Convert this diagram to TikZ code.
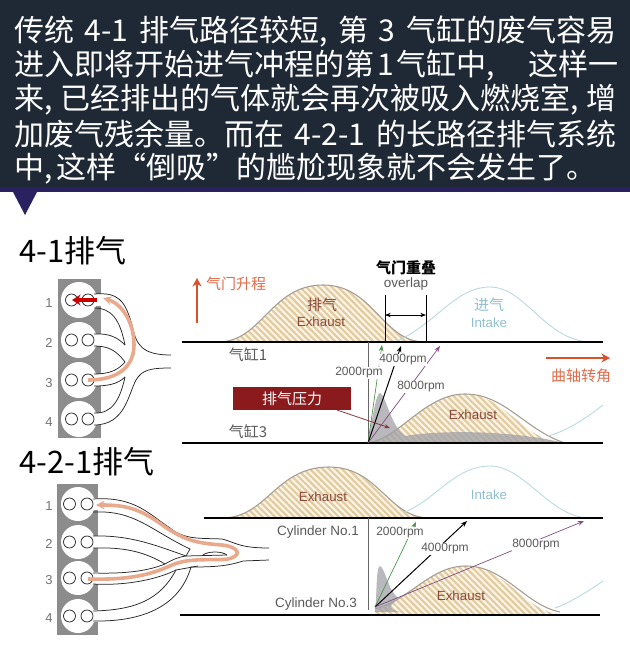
\documentclass[tikz,border=0pt]{standalone}
\usepackage{fontspec}
\setmainfont{Noto Sans CJK SC}
\newfontfamily\latinfont{Liberation Sans}
\usetikzlibrary{arrows.meta,calc,patterns.meta}
\XeTeXlinebreaklocale "zh"
\XeTeXlinebreakskip=0pt plus 1pt
\definecolor{headbg}{HTML}{1F2935}
\definecolor{headedge}{HTML}{2A2160}
\definecolor{liftred}{HTML}{D9512B}
\definecolor{hatchtan}{HTML}{E3CBA0}
\definecolor{hatchbase}{HTML}{FBF5E8}
\definecolor{bellgrey}{HTML}{A89F94}
\definecolor{intakeblue}{HTML}{B9DADE}
\definecolor{intaketext}{HTML}{8FBFCC}
\definecolor{labelbrown}{HTML}{8A4A3A}
\definecolor{boxred}{HTML}{8A1A1C}
\definecolor{flow}{HTML}{E8A98C}
\newcommand{\bellpath}[5]{(#1,#5) .. controls ({#1+.42*(#2-#1)},#5) and ({#1+.5*(#2-#1)},#4) .. (#2,#4) .. controls ({#2+.5*(#3-#2)},#4) and ({#2+.58*(#3-#2)},#5) .. (#3,#5)}
\newcommand{\sz}[1]{\fontsize{#1}{#1}\selectfont}
\newcommand{\gap}{\hspace{0pt plus 1fil}}
\tikzset{headline/.style={anchor=west,inner sep=0pt,text=white,font=\sz{30}},
         title/.style={anchor=west,inner sep=0pt,font=\sz{31}},
         axis/.style={line width=1.5pt,black},
         hatched/.style={preaction={fill=hatchbase},pattern={Lines[angle=-45,distance=4.5pt,line width=2.2pt]},pattern color=hatchtan},
         bell/.style={line width=1.1pt,bellgrey},
         intake/.style={line width=.9pt,intakeblue},
         press/.style={fill=black!40!blue!6!gray!70,fill opacity=.75},
         rpm/.style={-{Stealth[length=2.2mm]},line width=.7pt},
         rpmtext/.style={inner sep=.5pt,fill=white,text=black!65,font=\latinfont\sz{12}},
         tube/.style={line width=.75pt,black!85},
         flowline/.style={line width=3.6pt,flow},
         cyl/.style={text=black!55,font=\latinfont\sz{13}},
         red label/.style={text=liftred!85,font=\sz{15}},
         grey label/.style={text=black!65,font=\sz{15}},
         brown label/.style={text=labelbrown,font=\latinfont\sz{13.3}},
         blue label/.style={text=intaketext,font=\latinfont\sz{13.3}},
         lift/.style={-{Stealth[length=3mm,width=3.2mm]},line width=1.1pt,liftred}}
\begin{document}
\begin{tikzpicture}[x=1pt,y=-1pt]
  \useasboundingbox (0,0) rectangle (630,649);
  \fill[headbg] (0,0) rectangle (630,192);
  \fill[headedge] (0,187) rectangle (630,192);
  \fill[headedge] (13,192) -- (37,192) -- (25,215) -- cycle;
  \node[headline] (line1) at (14,32) {\makebox[602pt][s]{传统\gap 4-1\gap 排气路径较短,\gap 第\gap 3\gap 气缸的废气容易}};
  \node[headline] (line2) at (14,66) {\makebox[604pt][s]{进入即将开始进气冲程的第\hspace{3pt}1\hspace{3pt}气缸中,\gap 这样一}};
  \node[headline] (line3) at (14,100) {\makebox[602pt][s]{来,\gap 已经排出的气体就会再次被吸入燃烧室,\gap 增}};
  \node[headline] (line4) at (14,134) {\makebox[602pt][s]{加废气残余量。而在\gap 4-2-1\gap 的长路径排气系统}};
  \node[headline] (line5) at (14,169) {中,\hspace{4pt}这样“倒吸”的尴尬现象就不会发生了。};

  \node[title] (title1) at (19,251) {4-1排气};
  \node[title] (title2) at (19,462) {4-2-1排气};

  % upper engine
  \fill[black!45] (58,279) rectangle (101,438);
  \foreach \n/\y in {1/300,2/340,3/380,4/419}{
    \fill[white] (79,\y) circle (18);
    \fill[white] (90,\y-6) rectangle (101,\y+6);
    \draw[tube] (71.5,\y) circle (6) (88,\y) circle (6);
    \node[cyl] (num\n) at (49,\y+3) {\n};
  }
  \draw[tube] (94,294) .. controls (118,292) and (125,300) .. (132,325) .. controls (136,345) and (142,355) .. (171,355);
  \draw[tube] (94,308) .. controls (112,308) and (120,320) .. (125,345);
  \draw[tube] (94,334) .. controls (110,333) and (118,338) .. (125,345);
  \draw[tube] (94,346) .. controls (108,346) and (116,350) .. (125,362);
  \draw[tube] (94,374) .. controls (110,374) and (118,370) .. (125,362);
  \draw[tube] (94,386) .. controls (108,386) and (118,384) .. (125,377);
  \draw[tube] (94,413) .. controls (112,414) and (120,400) .. (125,377);
  \draw[tube] (94,425) .. controls (125,425) and (128,395) .. (136,380) .. controls (142,370) and (150,368) .. (171,368);
  \draw[flowline,-{Stealth[length=3mm,width=3mm]}] (88,380) .. controls (120,380) and (134,365) .. (134,345) .. controls (134,322) and (122,304) .. (103,298);
  \draw[-{Stealth[length=3mm,width=3.8mm]},line width=4pt,red!80!black] (97,300) -- (72,300);

  % lower engine
  \fill[black!45] (57,484) rectangle (98,635);
  \foreach \n/\y in {1/504,2/542,3/578,4/616}{
    \fill[white] (78,\y) circle (17);
    \fill[white] (90,\y-6) rectangle (98,\y+6);
    \draw[tube] (69.5,\y) circle (6) (87,\y) circle (6);
    \node[cyl] (numb\n) at (49,\y+2) {\n};
  }
  \draw[tube] (93,499) .. controls (135,496) and (150,515) .. (170,528) .. controls (185,540) and (200,538) .. (222,539) .. controls (235,542) and (238,548) .. (269,548);
  \draw[tube] (93,512) .. controls (135,510) and (150,530) .. (190,549) -- (186,556);
  \draw[tube] (93,536) .. controls (130,535) and (155,545) .. (186,556) -- (227,555);
  \draw[tube] (93,548) .. controls (125,547) and (145,552) .. (165,564);
  \draw[tube] (93,573) .. controls (130,574) and (150,570) .. (165,564) .. controls (172,560) and (178,557) .. (186,556);
  \draw[tube] (93,584) .. controls (130,586) and (160,578) .. (176,570);
  \draw[tube] (93,611) .. controls (135,610) and (160,600) .. (176,570) -- (198,566);
  \draw[tube] (93,621) .. controls (145,622) and (180,605) .. (191,567) .. controls (215,567) and (228,566) .. (243,561) -- (269,560);
  \draw[flowline,-{Stealth[length=3mm,width=3mm]}] (88,579) .. controls (130,580) and (150,575) .. (172,565) .. controls (190,557) and (215,561) .. (228,559) .. controls (242,556) and (240,547) .. (222,545) .. controls (195,543) and (185,540) .. (165,527) .. controls (140,508) and (125,505) .. (96,505);
  \draw[tube] (203,555) .. controls (208,551) and (222,551) .. (227,555);

  % upper chart
  \fill[hatched] \bellpath{218}{323}{425}{285}{342};
  \draw[bell] \bellpath{218}{323}{425}{285}{342};
  \draw[intake] (395,342) .. controls (435,325) and (455,287) .. (490,287) .. controls (525,287) and (545,340) .. (590,342);
  \node[text=labelbrown,font=\sz{15}] (ex1) at (322,305) {排气};
  \node[brown label] (ex1en) at (321,322) {Exhaust};
  \node[blue label,font=\sz{15}] (in1) at (489,305) {进气};
  \node[blue label] (in1en) at (489,323) {Intake};
  \draw[lift] (197,323) -- (197,278);
  \node[red label] (liftlabel) at (236,284) {气门升程};
  \node[font=\bfseries\sz{15}] (overlap) at (406,268) {气门重叠};
  \node[text=black!65,font=\latinfont\sz{13.5}] (overlapen) at (406,284) {overlap};
  \coordinate (ovl) at (385,295);
  \coordinate (ovr) at (426,295);
  \draw[line width=.6pt] (ovl) -- (385,342) (ovr) -- (426,342);
  \draw[{Stealth[length=2mm]}-{Stealth[length=2mm]},line width=.7pt] (385,315) -- (426,315);
  \node[grey label] (cyl1) at (248,355) {气缸1};
  \node[grey label] (cyl3) at (248,432) {气缸3};
  \draw[lift] (546,358) -- (610,358);
  \node[red label] (crank) at (581,376) {曲轴转角};

  \fill[hatched] (368,443) .. controls (400,438) and (425,394) .. (465,394) .. controls (505,394) and (525,443) .. (565,443) -- cycle;
  \draw[bell] (368,443) .. controls (400,438) and (425,394) .. (465,394) .. controls (505,394) and (525,430) .. (565,443);
  \draw[intake] (548,436) .. controls (570,430) and (590,415) .. (603,405);
  \fill[press] (368,443) .. controls (372,420) and (376,393) .. (380,393) .. controls (386,395) and (390,425) .. (405,436) .. controls (440,430) and (510,430) .. (565,443) -- cycle;
  \draw[axis] (182,342) -- (603,342);
  \draw[axis] (182,443) -- (603,443);
  \coordinate (origin1) at (368,443);
  \coordinate (green1) at (382,345);
  \coordinate (black1) at (401,346);
  \coordinate (purple1) at (440,346);
  \draw[line width=.7pt,black!60] (368,342) -- (origin1);
  \draw[rpm,green!40!black!70] (origin1) -- (green1);
  \draw[rpm,line width=1pt,black] (origin1) -- (black1);
  \draw[rpm,violet!60!black!70] (origin1) -- (purple1);
  \node[rpmtext] (rpm1a) at (359,373) {2000rpm};
  \node[rpmtext] (rpm1b) at (403,360) {4000rpm};
  \node[rpmtext] (rpm1c) at (421,387) {8000rpm};
  \node[brown label] (ex3) at (473,415) {Exhaust};
  \node[fill=boxred,text=white,minimum width=118pt,minimum height=23pt,inner sep=0pt,font=\sz{15}] (pressbox) at (292,398.5) {排气压力};
  \coordinate (presstip) at (390,428);
  \draw[-{Stealth[length=2mm]},line width=.8pt,boxred!70!gray] (337,410) -- (presstip);

  % lower chart
  \fill[hatched] \bellpath{222}{329}{430}{467}{518};
  \draw[bell] \bellpath{222}{329}{430}{467}{518};
  \draw[intake] (405,512) .. controls (435,500) and (455,466) .. (490,466) .. controls (525,466) and (550,518) .. (590,518);
  \node[brown label] (ex2) at (323,497) {Exhaust};
  \node[blue label] (in2) at (489,495) {Intake};
  \node[grey label,font=\latinfont\sz{13.5}] (cylno1) at (318,532) {Cylinder No.1};
  \node[grey label,font=\latinfont\sz{13.5}] (cylno3) at (316,604) {Cylinder No.3};

  \fill[hatched] (375,610) .. controls (410,600) and (430,566) .. (466,566) .. controls (505,566) and (525,612) .. (560,614) -- (375,614) -- cycle;
  \draw[bell] (375,609) .. controls (410,600) and (430,566) .. (466,566) .. controls (505,566) and (525,605) .. (560,612);
  \draw[intake] (555,608) .. controls (570,603) and (590,590) .. (603,581);
  \fill[press] (375,612) .. controls (377,595) and (376,566) .. (380,566) .. controls (385,568) and (388,590) .. (398,598) .. controls (392,605) and (385,608) .. (400,612) -- cycle;
  \draw[axis] (204,518) -- (603,518);
  \draw[axis] (180,615) -- (600,615);
  \coordinate (origin2) at (375,607);
  \coordinate (green2) at (416,522);
  \coordinate (black2) at (467,521);
  \coordinate (purple2) at (584,521);
  \draw[line width=.7pt,black!60] (368,518) -- (368,610);
  \draw[rpm,green!40!black!70] (origin2) -- (green2);
  \draw[rpm,line width=1pt,black] (origin2) -- (black2);
  \draw[rpm,violet!60!black!70] (origin2) -- (purple2);
  \node[rpmtext] (rpm2a) at (400,533) {2000rpm};
  \node[rpmtext] (rpm2b) at (445,549) {4000rpm};
  \node[rpmtext] (rpm2c) at (536,545) {8000rpm};
  \node[brown label] (ex4) at (461,596) {Exhaust};
\end{tikzpicture}
\end{document}
